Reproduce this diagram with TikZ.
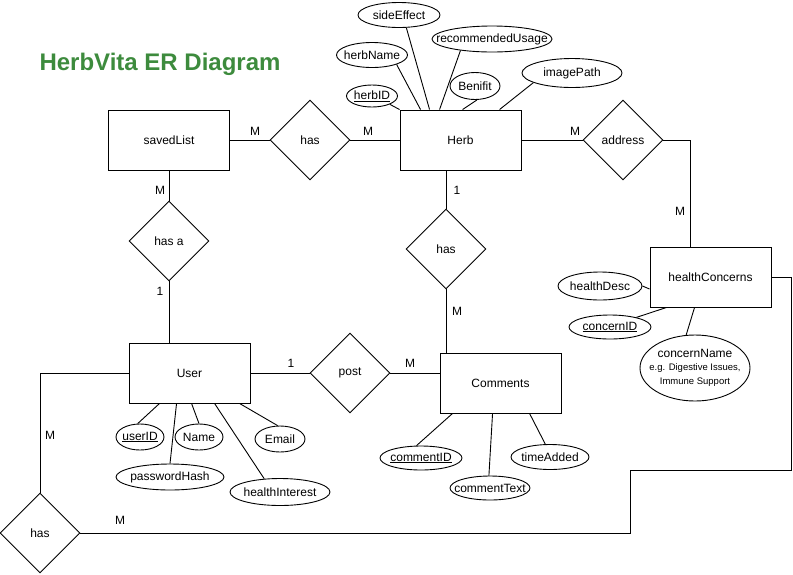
\documentclass[tikz,border=0pt]{standalone}
\usepackage{fontspec}
\setmainfont{Liberation Sans}
\usetikzlibrary{shapes.geometric}
\definecolor{titlegreen}{RGB}{61,139,61}
\begin{document}
\begin{tikzpicture}[x=1pt,y=-1pt,line width=0.9pt,
  every node/.style={font=\fontsize{12}{14}\selectfont},
  ent/.style={draw, rectangle, minimum width=121pt, minimum height=60pt, inner sep=0pt},
  rel/.style={draw, diamond, minimum width=80pt, minimum height=80pt, inner sep=0pt},
  att/.style={draw, ellipse, inner xsep=-14pt, inner ysep=-4pt},
  lbl/.style={inner sep=0pt}]
\useasboundingbox (0,0) rectangle (793,574);

% title
\node[inner sep=0pt, text=titlegreen, font=\fontsize{24}{28}\bfseries] (title) at (160,64) {HerbVita ER Diagram};

% entities
\node[ent] (saved) at (169,140) {savedList};
\node[ent] (herb) at (460.5,140) {Herb};
\node[ent] (hc) at (710.5,277) {healthConcerns};
\node[ent] (user) at (189.5,373) {User};
\node[ent] (comm) at (500.5,383) {Comments};

% relationships
\node[rel] (has1) at (310,140) {has};
\node[rel] (addr) at (623,140) {address};
\node[rel] (hasa) at (169,241) {has a};
\node[rel] (has2) at (446,249) {has};
\node[rel] (post) at (350,373) {post};
\node[rel] (has3) at (40,533) {has};

% herb attributes
\node[att, minimum width=82pt, minimum height=25pt] (side) at (399,15) {sideEffect};
\node[att, minimum width=71pt, minimum height=25pt] (hname) at (372,55) {herbName};
\node[att, minimum width=51pt, minimum height=22pt] (hid) at (372,96) {\underline{herbID}};
\node[att, minimum width=120pt, minimum height=26pt] (rec) at (492,39) {recommendedUsage};
\node[att, minimum width=50pt, minimum height=27pt] (ben) at (475,86) {Benifit};
\node[att, minimum width=100pt, minimum height=29pt] (img) at (572,73) {imagePath};

% user attributes
\node[att, minimum width=48pt, minimum height=26pt] (uid) at (140,437) {\underline{userID}};
\node[att, minimum width=48pt, minimum height=26pt] (uname) at (199,437) {Name};
\node[att, minimum width=50pt, minimum height=26pt] (email) at (280,439) {Email};
\node[att, minimum width=108pt, minimum height=26pt] (pwd) at (170,477) {passwordHash};
\node[att, minimum width=100pt, minimum height=27pt] (hint) at (280,492) {healthInterest};

% comment attributes
\node[att, minimum width=82pt, minimum height=24pt] (cid) at (421,458) {\underline{commentID}};
\node[att, minimum width=80pt, minimum height=24pt] (ctext) at (490,488) {commentText};
\node[att, minimum width=78pt, minimum height=25pt] (tadd) at (550,457) {timeAdded};

% health concern attributes
\node[att, minimum width=84pt, minimum height=28pt] (hdesc) at (600,286) {healthDesc};
\node[att, minimum width=82pt, minimum height=24pt] (conid) at (610,327) {\underline{concernID}};
\node[att, minimum width=110pt, minimum height=66pt, align=center] (cname) at (695,368)
  {concernName\\[-1pt]{\fontsize{9.5}{14}\selectfont e.g. Digestive Issues,}\\[0pt]{\fontsize{9.5}{14}\selectfont Immune Support}};

% attribute lines
\draw (hid.-25) -- (herb.north west);
\draw (hname.-21) -- ([xshift=21pt]herb.north west);
\draw (side.-60) -- ([xshift=30pt]herb.north west);
\draw (rec.-160) -- ([xshift=40pt]herb.north west);
\draw (ben.-82) -- ([xshift=63pt]herb.north west);
\draw (img.-166) -- ([xshift=100pt]herb.north west);

\draw (uid.100) -- ([xshift=31pt]user.south west);
\draw (uname.north) -- ([xshift=63pt]user.south west);
\draw (pwd.north) -- ([xshift=48pt]user.south west);
\draw (hint.140) -- ([xshift=86pt]user.south west);
\draw (email.100) -- ([xshift=111pt]user.south west);

\draw (cid.110) -- ([xshift=13pt]comm.south west);
\draw (ctext.95) -- ([xshift=53pt]comm.south west);
\draw (tadd.110) -- ([xshift=90pt]comm.south west);

\draw (hdesc.east) -- ([yshift=-12pt]hc.west);
\draw (conid.20) -- ([xshift=17pt]hc.south west);
\draw (cname.105) -- ([xshift=45pt]hc.south west);

% relationship lines
\draw (saved.east) -- (has1.west);
\draw (has1.east) -- (herb.west);
\draw (herb.east) -- (addr.west);
\draw (addr.east) -| ([xshift=-20.5pt]hc.north);
\draw (saved.south) -- (hasa.north);
\draw (hasa.south) -- (user.north -| hasa.south);
\draw (herb.south -| has2.north) -- (has2.north);
\draw (has2.south) -- (comm.north -| has2.south);
\draw (user.east) -- (post.west);
\draw (post.east) -- (comm.west |- post.east);
\draw (user.west) -| (has3.north);
\coordinate (r1) at (630,533);
\coordinate (r2) at (630,470);
\coordinate (r3) at (791,470);
\draw (has3.east) -- (r1) -- (r2) -- (r3) |- (hc.east);

% cardinality labels
\node[lbl] (m1) at (255,131) {M};
\node[lbl] (m2) at (368,131) {M};
\node[lbl] (m3) at (575,131) {M};
\node[lbl] (m4) at (680,211) {M};
\node[lbl] (m5) at (160,190) {M};
\node[lbl] (o1) at (160,291) {1};
\node[lbl] (o2) at (457,190) {1};
\node[lbl] (m6) at (457,311) {M};
\node[lbl] (o3) at (291,363) {1};
\node[lbl] (m7) at (410,363) {M};
\node[lbl] (m8) at (50,435) {M};
\node[lbl] (m9) at (120,520) {M};
\end{tikzpicture}
\end{document}
